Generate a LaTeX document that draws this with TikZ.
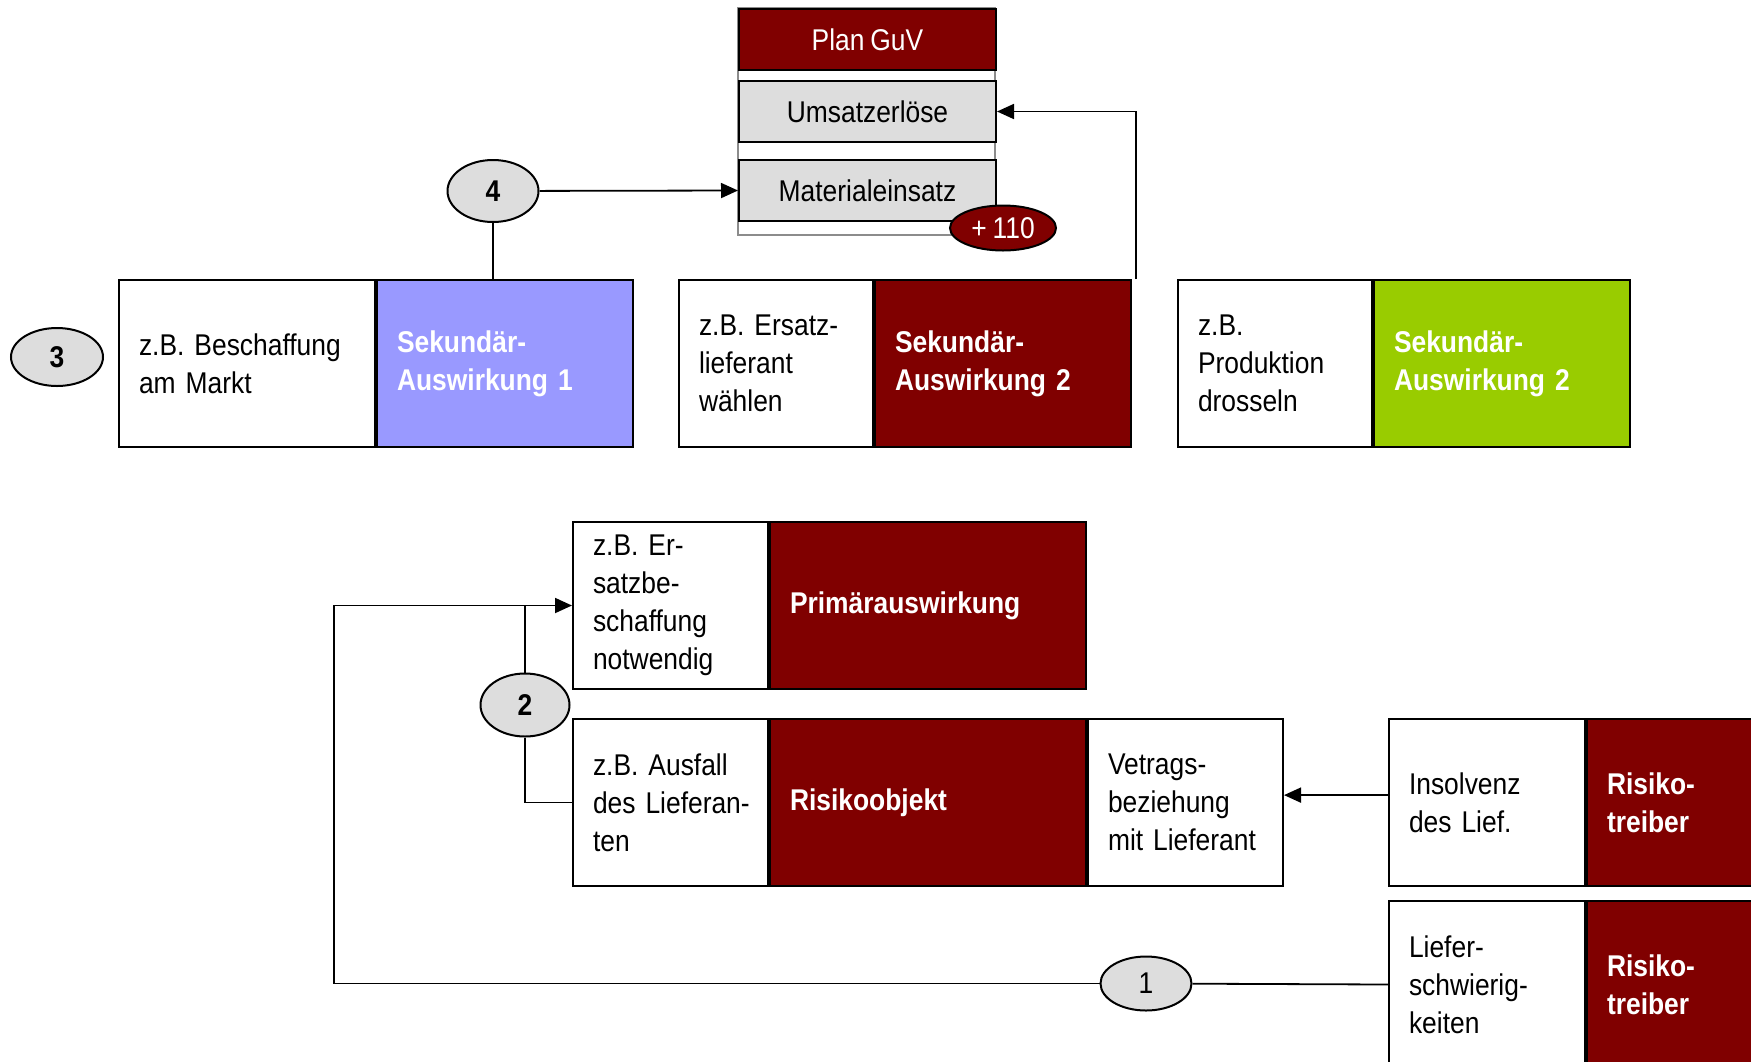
\documentclass[tikz,border=0pt]{standalone}
\usepackage{fontspec}
\setmainfont{Liberation Sans}[FakeStretch=0.88, WordSpace=0.8]
\usetikzlibrary{shapes.geometric,arrows.meta}
\definecolor{dred}{HTML}{800000}
\definecolor{lpurple}{HTML}{9999FF}
\definecolor{lgreen}{HTML}{99CC00}
\definecolor{lgray}{HTML}{DDDDDD}
\newcommand\myfs{\fontsize{15pt}{19pt}\selectfont\frenchspacing}
\begin{document}
\begin{tikzpicture}[x=0.5pt,y=-0.5pt,
  base/.style={draw=black, line width=1pt, anchor=north west, minimum height=83.5pt, inner xsep=10pt, inner ysep=0pt, align=left, font=\myfs},
  wbox/.style={base, fill=white, text=black},
  cbox/.style={base, fill=#1, text=white, font=\myfs\bfseries},
  gbox/.style={draw=black, line width=1pt, anchor=north west, minimum width=128.5pt, minimum height=30.5pt, fill=lgray, font=\myfs, inner sep=0pt},
  num/.style={ellipse, draw=black, line width=1pt, fill=lgray, inner sep=0pt, font=\myfs\bfseries},
  conn/.style={draw=black, line width=0.9pt},
  arr/.style={conn, -{Triangle[length=8.5pt,width=7.5pt]}},
]
\useasboundingbox (0,0) rectangle (1751,1061);
\clip (0,0) rectangle (1751,1061);
\fill[white] (0,0) rectangle (1751,1061);

% Plan GuV
\draw[draw=black!45, line width=0.8pt, fill=white] (738,8) rectangle (995,235);
\node[gbox, fill=dred, text=white] (guv) at (738,8) {Plan GuV};
\node[gbox] (ums) at (738,80) {Umsatzerlöse};
\node[gbox] (mat) at (738,159) {Materialeinsatz};
\node[num, font=\myfs, fill=dred, text=white, minimum width=53pt, minimum height=22.5pt] (p110) at (1003,228) {+ 110};

% top row
\node[wbox, text width=108pt] (a1) at (118,279) {\mbox{z.B. Beschaffung}\\am Markt};
\node[cbox=lpurple, text width=108pt] (a2) at (a1.north east) {Sekundär-\\\mbox{Auswirkung 1}};
\node[wbox, text width=77pt] (b1) at (678,279) {\mbox{z.B. Ersatz-}\\lieferant\\wählen};
\node[cbox=dred, text width=108pt] (b2) at (b1.north east) {Sekundär-\\\mbox{Auswirkung 2}};
\node[wbox, text width=77pt] (c1) at (1177,279) {z.B.\\Produktion\\drosseln};
\node[cbox=lgreen, text width=108pt] (c2) at (c1.north east) {Sekundär-\\\mbox{Auswirkung 2}};

% bottom
\node[wbox, text width=77.5pt] (p1) at (572,521) {\mbox{z.B. Er-}\\satzbe-\\schaffung\\notwendig};
\node[cbox=dred, text width=138pt] (p2) at (p1.north east) {Primärauswirkung};
\node[wbox, text width=77.5pt] (r1) at (572,718) {\mbox{z.B. Ausfall}\\\mbox{des Lieferan-}\\ten};
\node[cbox=dred, text width=138pt] (r2) at (r1.north east) {Risikoobjekt};
\node[wbox, text width=77.5pt] (r3) at (r2.north east) {Vetrags-\\beziehung\\\mbox{mit Lieferant}};
\node[wbox, text width=78pt] (i1) at (1388,718) {Insolvenz\\\mbox{des Lief.}};
\node[cbox=dred, text width=109pt] (i2) at (i1.north east) {Risiko-\\treiber};
\node[wbox, text width=78pt] (l1) at (1388,900) {Liefer-\\schwierig-\\keiten};
\node[cbox=dred, text width=109pt] (l2) at (l1.north east) {Risiko-\\treiber};

% numbered ellipses
\node[num, minimum width=46pt, minimum height=29pt] (n3) at (57,357) {3};
\node[num, minimum width=45.5pt, minimum height=31pt] (n4) at (493,191) {4};
\node[num, minimum width=44.5pt, minimum height=31.5pt] (n2) at (525,705) {2};
\node[num, font=\myfs, minimum width=45.5pt, minimum height=27pt] (n1) at (1146,983.5) {1};

% connectors
\draw[conn] (n4) -- (n4 |- a2.north);
\draw[arr] (n4) -- (mat.west);
\coordinate (u0) at (1136,279);
\draw[arr] (u0) |- (ums.east);
\coordinate (lp) at (334,983.5);
\draw[conn] (l1.west) -- (n1);
\draw[arr] (n1) -- (lp) |- (p1.west);
\draw[conn] (n2) -- (n2 |- p1.west);
\draw[conn] (n2) |- (r1.west);
\draw[arr] ([yshift=3.7pt]i1.west) -- ([yshift=3.7pt]r3.east);
\end{tikzpicture}
\end{document}
